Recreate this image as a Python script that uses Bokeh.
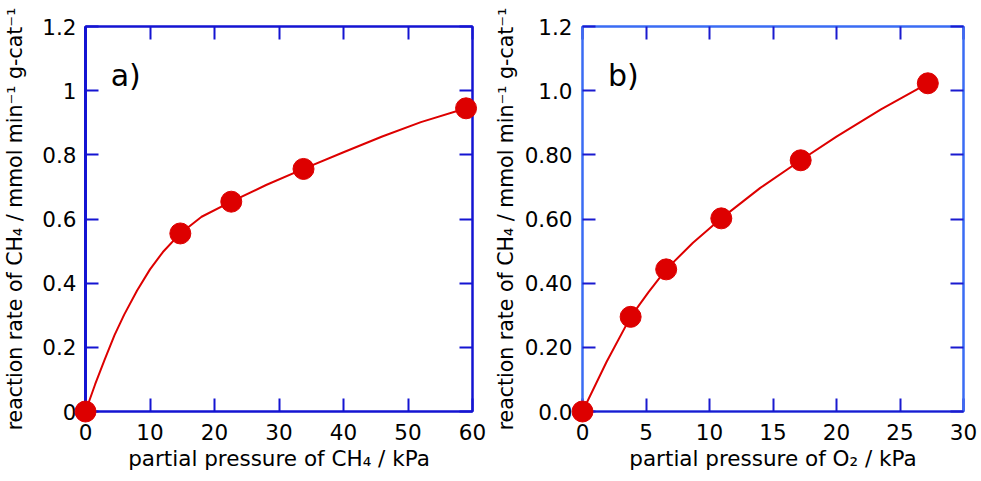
from bokeh.plotting import figure
from bokeh.models import Range1d, FixedTicker, LinearAxis, Label
from bokeh.layouts import row
from bokeh.embed import file_html
from bokeh.resources import INLINE

# ---- data ----
ch4_pressure = [0.0, 14.7, 22.6, 33.8, 59.0]
ch4_rate = [0.0, 0.555, 0.654, 0.756, 0.945]
ch4_fit_x = [0.0, 1.5, 3.0, 4.5, 6.0, 8.0, 10.0, 12.0, 14.7, 18.0, 22.6, 28.0, 33.8, 40.0, 46.0, 52.0, 59.0]
ch4_fit_y = [0.0, 0.085, 0.163, 0.238, 0.302, 0.377, 0.443, 0.497, 0.555, 0.607, 0.654, 0.706, 0.756, 0.808, 0.857, 0.902, 0.945]

o2_pressure = [0.0, 3.79, 6.59, 10.93, 17.18, 27.19]
o2_rate = [0.0, 0.295, 0.443, 0.602, 0.783, 1.023]
o2_fit_x = [0.0, 1.9, 3.79, 5.2, 6.59, 8.7, 10.93, 14.0, 17.18, 20.0, 23.5, 27.19]
o2_fit_y = [0.0, 0.155, 0.295, 0.372, 0.443, 0.526, 0.602, 0.697, 0.783, 0.857, 0.942, 1.023]

a_x_ticks = [0, 10, 20, 30, 40, 50, 60]
a_y_ticks = [0, 0.2, 0.4, 0.6, 0.8, 1, 1.2]
a_y_labels = ["0", "0.2", "0.4", "0.6", "0.8", "1", "1.2"]
b_x_ticks = [0, 5, 10, 15, 20, 25, 30]
b_y_ticks = [0, 0.2, 0.4, 0.6, 0.8, 1, 1.2]
b_y_labels = ["0.0", "0.20", "0.40", "0.60", "0.80", "1.0", "1.2"]

a_xlabel = "partial pressure of CH\u2084 / kPa"
b_xlabel = "partial pressure of O\u2082 / kPa"
ylabel = "reaction rate of CH\u2084 / mmol min\u207b\u00b9 g-cat\u207b\u00b9"

FONT = "DejaVu Sans"
FS = "21.5px"
XLFS = "21.5px"
YLFS = "20.5px"
RED = "#dd0000"
H = 480


def panel(width, bl, br, bt, xr, yr, xt, yt, ylabs, xlabel, frame_col, tick_col,
          bottom_col, left_col, left_w, px, py, fit_x, fit_y, tag, tag_x,
          y_std, y_lab_std, frame_bottom):
    p = figure(width=width, height=H, x_range=Range1d(*xr), y_range=Range1d(*yr),
               output_backend="svg", toolbar_location=None,
               min_border_left=bl, min_border_right=br, min_border_top=bt,
               min_border_bottom=H - frame_bottom)
    p.xgrid.visible = False
    p.ygrid.visible = False
    p.background_fill_color = "white"
    p.border_fill_color = "white"
    p.outline_line_color = frame_col
    p.outline_line_width = 2

    xa = p.xaxis[0]
    ya = p.yaxis[0]
    xa.ticker = FixedTicker(ticks=xt)
    ya.ticker = FixedTicker(ticks=yt)
    ya.major_label_overrides = dict(zip(yt, ylabs))
    xa.axis_label = xlabel
    ya.axis_label = ylabel
    for ax in (xa, ya):
        ax.major_tick_in = 13
        ax.major_tick_out = 0
        ax.minor_tick_line_color = None
        ax.major_tick_line_color = tick_col
        ax.major_tick_line_width = 2
        ax.major_label_text_font = FONT
        ax.major_label_text_font_size = FS
        ax.major_label_text_color = "black"
        ax.major_label_text_line_height = 1.0
        ax.axis_label_text_font = FONT
        ax.axis_label_text_font_style = "normal"
        ax.axis_label_text_color = "black"
        ax.axis_label_text_line_height = 1.0
    xa.axis_label_text_font_size = XLFS
    ya.axis_label_text_font_size = YLFS
    xa.axis_line_color = bottom_col
    xa.axis_line_width = 2
    ya.axis_line_color = left_col
    ya.axis_line_width = left_w
    ya.major_label_standoff = y_std
    ya.axis_label_standoff = y_lab_std
    xa.major_label_standoff = 12
    xa.axis_label_standoff = 3

    for place, tk in (("above", xt), ("right", yt)):
        ax = LinearAxis(ticker=FixedTicker(ticks=tk), major_label_text_font_size="1px",
                        major_label_text_color=None,
                        major_label_standoff=0, major_tick_in=13, major_tick_out=0,
                        minor_tick_line_color=None, axis_line_color=frame_col, axis_line_width=2,
                        major_tick_line_color=tick_col, major_tick_line_width=2)
        p.add_layout(ax, place)

    p.line(fit_x, fit_y, line_color=RED, line_width=2)
    p.scatter(px, py, size=21, fill_color=RED, line_color=RED, level="overlay")
    p.add_layout(Label(x=tag_x, y=1.046, text=tag, text_font=FONT, text_font_size="30px",
                       text_color="black", text_baseline="alphabetic"))
    return p


pa = panel(490, 84, 18, 24, (0, 60), (0, 1.2), a_x_ticks, a_y_ticks, a_y_labels, a_xlabel,
           "#1414d2", "#1414d2", "#1414d2", "#1414d2", 3, ch4_pressure, ch4_rate,
           ch4_fit_x, ch4_fit_y, "a)", 3.9, 9, 12, 413)
pb = panel(489, 90, 16, 26, (0, 30), (0, 1.2), b_x_ticks, b_y_ticks, b_y_labels, b_xlabel,
           "#3a6cf4", "#1a1acf", "#1a1acf", "#3a6cf4", 2, o2_pressure, o2_rate,
           o2_fit_x, o2_fit_y, "b)", 2.0, 10, 4, 411)

layout = row(pa, pb)
open("out.html", "w").write(file_html(layout, INLINE))
